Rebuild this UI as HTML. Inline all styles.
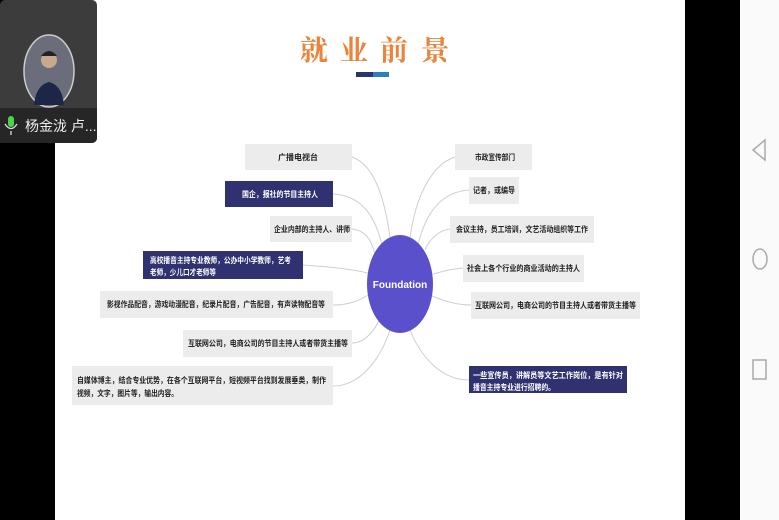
<!DOCTYPE html>
<html><head><meta charset="utf-8"><style>
html,body{margin:0;padding:0;width:779px;height:520px;overflow:hidden;background:#000;}
svg{display:block}
</style></head><body>
<svg width="779" height="520" viewBox="0 0 779 520" xmlns="http://www.w3.org/2000/svg" font-family="'Liberation Sans','Noto Sans CJK SC',sans-serif">
<rect x="0" y="0" width="779" height="520" fill="#000"/>
<rect x="55" y="0" width="630" height="520" fill="#fff"/>
<rect x="740" y="0" width="39" height="520" fill="#fafafa"/>
<path d="M765 140 L753 150 L765 160 Z" fill="none" stroke="#aaa" stroke-width="1.5"/>
<ellipse cx="760" cy="259" rx="7" ry="10" fill="none" stroke="#aaa" stroke-width="1.5"/>
<rect x="753" y="360" width="13" height="19" fill="none" stroke="#aaa" stroke-width="1.5"/>
<rect x="0" y="0" width="97" height="143" rx="5" fill="#3c3c3c"/>
<path d="M0 108 H97 V138 a5 5 0 0 1 -5 5 H0 Z" fill="#262626"/>
<ellipse cx="49" cy="71" rx="25" ry="36" fill="#6b6e7a" stroke="#ccc" stroke-width="1.5"/>
<path d="M34 105 Q36 85 49 82 Q62 85 64 105 Z" fill="#1c2748"/>
<circle cx="49" cy="60" r="8" fill="#caa890"/>
<path d="M41 56 Q49 46 57 56 Z" fill="#222"/>
<rect x="8" y="116" width="6" height="11" rx="3" fill="#4cd34c"/>
<path d="M5 124 Q11 133 17 124 M11 131 V135" stroke="#ddd" stroke-width="1.3" fill="none"/>
<text x="25" y="131" font-size="14" fill="#eee">杨金泷 卢...</text>
<g font-family="'Noto Serif CJK SC','Noto Sans CJK SC',serif" font-size="28" font-weight="bold" fill="#e8843c">
<text x="300" y="60">就</text><text x="340" y="60">业</text><text x="380" y="60">前</text><text x="421" y="60">景</text>
</g>
<rect x="356" y="72" width="17" height="5" fill="#2a3570"/>
<rect x="373" y="72" width="16" height="5" fill="#2e7fc0"/>
<g fill="none" stroke="#cfcfcf" stroke-width="1">
<path d="M352 157 C375 165 385 200 390 238"/>
<path d="M333 194 C360 195 375 215 382 245"/>
<path d="M352 229 C365 230 372 240 375 255"/>
<path d="M303 265 C335 267 355 270 368 273"/>
<path d="M333 305 C350 305 360 300 368 295"/>
<path d="M352 343 C365 343 375 330 380 318"/>
<path d="M333 386 C360 386 380 360 390 330"/>
<path d="M455 157 C430 165 415 200 410 238"/>
<path d="M469 190 C440 192 425 215 418 245"/>
<path d="M450 229 C440 230 430 238 425 250"/>
<path d="M463 268 C450 269 440 272 433 274"/>
<path d="M471 305 C455 305 442 300 432 296"/>
<path d="M469 380 C440 380 420 355 410 330"/>
</g>
<ellipse cx="400" cy="284" rx="33" ry="49" fill="#5b50cc"/>
<text x="400" y="288" font-size="10" font-weight="bold" fill="#fff" text-anchor="middle">Foundation</text>
<g font-size="8" font-weight="bold" lengthAdjust="spacingAndGlyphs">
<rect x="245" y="144" width="107" height="26" fill="#ececec"/>
<text x="278" y="160" textLength="40" lengthAdjust="spacingAndGlyphs" fill="#222">广播电视台</text>
<rect x="225" y="181" width="108" height="26" fill="#2f3170"/>
<text x="242" y="197" textLength="76" lengthAdjust="spacingAndGlyphs" fill="#fff">国企，报社的节目主持人</text>
<rect x="270" y="216" width="82" height="26" fill="#ececec"/>
<text x="274" y="232" textLength="76" lengthAdjust="spacingAndGlyphs" fill="#222">企业内部的主持人、讲师</text>
<rect x="143" y="251" width="160" height="28" fill="#2f3170"/>
<text x="150" y="263" textLength="141" lengthAdjust="spacingAndGlyphs" fill="#fff">高校播音主持专业教师，公办中小学教师，艺考</text>
<text x="150" y="275" textLength="66" lengthAdjust="spacingAndGlyphs" fill="#fff">老师，少儿口才老师等</text>
<rect x="100" y="291" width="233" height="27" fill="#ececec"/>
<text x="107" y="307" textLength="218" lengthAdjust="spacingAndGlyphs" fill="#222">影视作品配音，游戏动漫配音，纪录片配音，广告配音，有声读物配音等</text>
<rect x="183" y="330" width="169" height="27" fill="#ececec"/>
<text x="188" y="346" textLength="160" lengthAdjust="spacingAndGlyphs" fill="#222">互联网公司，电商公司的节目主持人或者带货主播等</text>
<rect x="72" y="366" width="261" height="39" fill="#ececec"/>
<text x="77" y="383" textLength="249" lengthAdjust="spacingAndGlyphs" fill="#222">自媒体博主，结合专业优势，在各个互联网平台，短视频平台找到发展垂类，制作</text>
<text x="77" y="396" textLength="101" lengthAdjust="spacingAndGlyphs" fill="#222">视频，文字，图片等，输出内容。</text>
<rect x="455" y="144" width="77" height="26" fill="#ececec"/>
<text x="475" y="160" textLength="40" lengthAdjust="spacingAndGlyphs" fill="#222">市政宣传部门</text>
<rect x="469" y="177" width="50" height="27" fill="#ececec"/>
<text x="473" y="193" textLength="42" lengthAdjust="spacingAndGlyphs" fill="#222">记者，或编导</text>
<rect x="450" y="216" width="144" height="27" fill="#ececec"/>
<text x="456" y="232" textLength="132" lengthAdjust="spacingAndGlyphs" fill="#222">会议主持，员工培训，文艺活动组织等工作</text>
<rect x="463" y="255" width="121" height="27" fill="#ececec"/>
<text x="467" y="271" textLength="113" lengthAdjust="spacingAndGlyphs" fill="#222">社会上各个行业的商业活动的主持人</text>
<rect x="471" y="292" width="169" height="27" fill="#ececec"/>
<text x="475" y="308" textLength="161" lengthAdjust="spacingAndGlyphs" fill="#222">互联网公司，电商公司的节目主持人或者带货主播等</text>
<rect x="469" y="366" width="158" height="27" fill="#2f3170"/>
<text x="473" y="378" textLength="150" lengthAdjust="spacingAndGlyphs" fill="#fff">一些宣传员，讲解员等文艺工作岗位，是有针对</text>
<text x="473" y="390" textLength="82" lengthAdjust="spacingAndGlyphs" fill="#fff">播音主持专业进行招聘的。</text>
</g>
</svg>
</body></html>
